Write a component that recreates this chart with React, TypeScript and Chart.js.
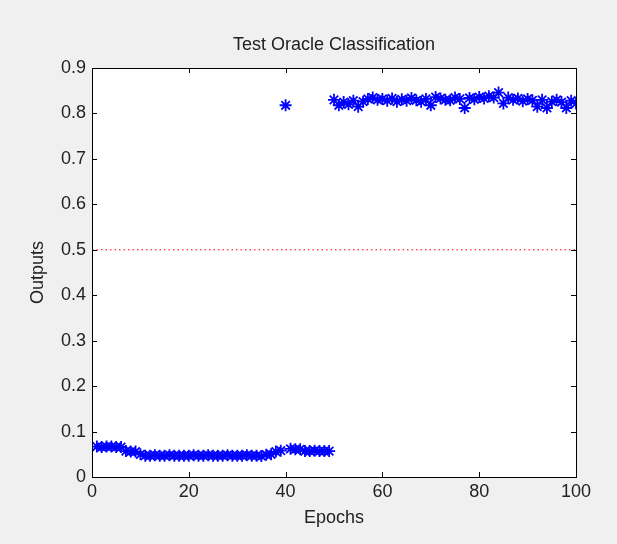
import React, { useEffect, useRef } from "react";
import { Chart, registerables } from "chart.js";

Chart.register(...registerables);

const title = "Test Oracle Classification";
const xLabel = "Epochs";
const yLabel = "Outputs";
const threshold = 0.5;

const epochs = [
  1, 2, 3, 4, 5, 6, 7, 8, 9, 10, 11, 12, 13, 14, 15, 16, 17, 18, 19, 20,
  21, 22, 23, 24, 25, 26, 27, 28, 29, 30, 31, 32, 33, 34, 35, 36, 37, 38, 39, 40,
  41, 42, 43, 44, 45, 46, 47, 48, 49, 50, 51, 52, 53, 54, 55, 56, 57, 58, 59, 60,
  61, 62, 63, 64, 65, 66, 67, 68, 69, 70, 71, 72, 73, 74, 75, 76, 77, 78, 79, 80,
  81, 82, 83, 84, 85, 86, 87, 88, 89, 90, 91, 92, 93, 94, 95, 96, 97, 98, 99, 100,
];

const outputs = [
  0.067, 0.066, 0.067, 0.067, 0.066, 0.066, 0.057, 0.056, 0.056, 0.050,
  0.047, 0.047, 0.048, 0.047, 0.047, 0.048, 0.047, 0.047, 0.047, 0.047,
  0.048, 0.047, 0.047, 0.048, 0.047, 0.047, 0.047, 0.048, 0.047, 0.047,
  0.047, 0.048, 0.047, 0.047, 0.046, 0.049, 0.050, 0.056, 0.058, 0.818,
  0.062, 0.061, 0.061, 0.057, 0.057, 0.058, 0.057, 0.057, 0.057, 0.830,
  0.818, 0.825, 0.820, 0.828, 0.815, 0.826, 0.832, 0.835, 0.830, 0.832,
  0.828, 0.833, 0.826, 0.831, 0.828, 0.834, 0.829, 0.826, 0.832, 0.818,
  0.836, 0.833, 0.830, 0.829, 0.835, 0.832, 0.812, 0.834, 0.831, 0.836,
  0.833, 0.838, 0.835, 0.846, 0.822, 0.835, 0.830, 0.833, 0.827, 0.832,
  0.829, 0.815, 0.830, 0.812, 0.826, 0.830, 0.825, 0.812, 0.828, 0.822,
];

const xTicks = [0, 20, 40, 60, 80, 100];
const yTicks = [0, 0.1, 0.2, 0.3, 0.4, 0.5, 0.6, 0.7, 0.8, 0.9];

const FONT = "'Liberation Sans', Arial, sans-serif";
const FS = 18;

const framePlugin = {
  id: "frame",
  beforeDraw(chart: any) {
    const { ctx, chartArea: a, width, height } = chart;
    ctx.save();
    ctx.fillStyle = "#f0f0f0";
    ctx.fillRect(0, 0, width, height);
    ctx.fillStyle = "#ffffff";
    ctx.fillRect(a.left, a.top, a.right - a.left, a.bottom - a.top);
    ctx.restore();
  },
  afterDraw(chart: any) {
    const { ctx, chartArea: a, scales } = chart;
    ctx.save();
    ctx.strokeStyle = "#000000";
    ctx.lineWidth = 1;
    const L = 5;
    ctx.beginPath();
    xTicks.forEach((t) => {
      const x = Math.round(scales.x.getPixelForValue(t)) + 0.5;
      ctx.moveTo(x, a.bottom);
      ctx.lineTo(x, a.bottom - L);
      ctx.moveTo(x, a.top);
      ctx.lineTo(x, a.top + L);
    });
    yTicks.forEach((t) => {
      const y = Math.round(scales.y.getPixelForValue(t)) + 0.5;
      ctx.moveTo(a.left, y);
      ctx.lineTo(a.left + L, y);
      ctx.moveTo(a.right, y);
      ctx.lineTo(a.right - L, y);
    });
    ctx.stroke();
    ctx.strokeRect(
      Math.round(a.left) + 0.5,
      Math.round(a.top) + 0.5,
      Math.round(a.right - a.left),
      Math.round(a.bottom - a.top)
    );
    ctx.fillStyle = "#222222";
    ctx.font = `${FS}px ${FONT}`;
    ctx.textAlign = "center";
    ctx.textBaseline = "middle";
    ctx.fillText(title, (a.left + a.right) / 2, 45);
    ctx.restore();
  },
};

export default function App() {
  const ref = useRef<HTMLCanvasElement>(null);

  useEffect(() => {
    if (!ref.current) return;
    const points = epochs.map((e, i) => ({ x: e, y: outputs[i] }));
    const chart = new Chart(ref.current, {
      type: "scatter",
      data: {
        datasets: [
          {
            label: "Outputs",
            data: points,
            pointStyle: "star",
            pointRadius: 6,
            borderColor: "#0000ff",
            backgroundColor: "#0000ff",
            borderWidth: 1.8,
            showLine: false,
          },
          {
            label: "Threshold",
            data: [
              { x: 0, y: threshold },
              { x: 100, y: threshold },
            ],
            showLine: true,
            pointRadius: 0,
            borderColor: "#ff0000",
            borderWidth: 1,
            borderDash: [1.5, 3],
          },
        ],
      },
      options: {
        responsive: false,
        animation: false,
        layout: { padding: { left: 0, top: 68, right: 41, bottom: 0 } },
        plugins: {
          legend: { display: false },
          tooltip: { enabled: false },
          title: { display: false },
        },
        scales: {
          x: {
            type: "linear",
            min: 0,
            max: 100,
            afterFit: (s: any) => {
              s.height = 67;
            },
            afterBuildTicks: (s: any) => {
              s.ticks = xTicks.map((v) => ({ value: v }));
            },
            grid: { display: false, drawTicks: false },
            border: { display: false },
            ticks: {
              padding: 4,
              color: "#222222",
              font: { family: FONT, size: FS },
              maxRotation: 0,
              callback: (v: any) => String(v),
            },
            title: {
              display: true,
              text: xLabel,
              color: "#222222",
              font: { family: FONT, size: FS },
              padding: { top: 0, bottom: 15 },
            },
          },
          y: {
            type: "linear",
            min: 0,
            max: 0.9,
            afterFit: (s: any) => {
              s.width = 92;
            },
            afterBuildTicks: (s: any) => {
              s.ticks = yTicks.map((v) => ({ value: v }));
            },
            grid: { display: false, drawTicks: false },
            border: { display: false },
            ticks: {
              padding: 6,
              color: "#222222",
              font: { family: FONT, size: FS },
              callback: (v: any) => String(Number(Number(v).toFixed(1))),
            },
            title: {
              display: true,
              text: yLabel,
              color: "#222222",
              font: { family: FONT, size: FS },
              padding: { top: 27, bottom: 0 },
            },
          },
        },
      },
      plugins: [framePlugin],
    });
    return () => chart.destroy();
  }, []);

  return (
    <div style={{ position: "absolute", left: 0, top: 0, width: 617, height: 544, background: "#f0f0f0" }}>
      <canvas ref={ref} width={617} height={544} style={{ width: 617, height: 544, display: "block" }} />
    </div>
  );
}
